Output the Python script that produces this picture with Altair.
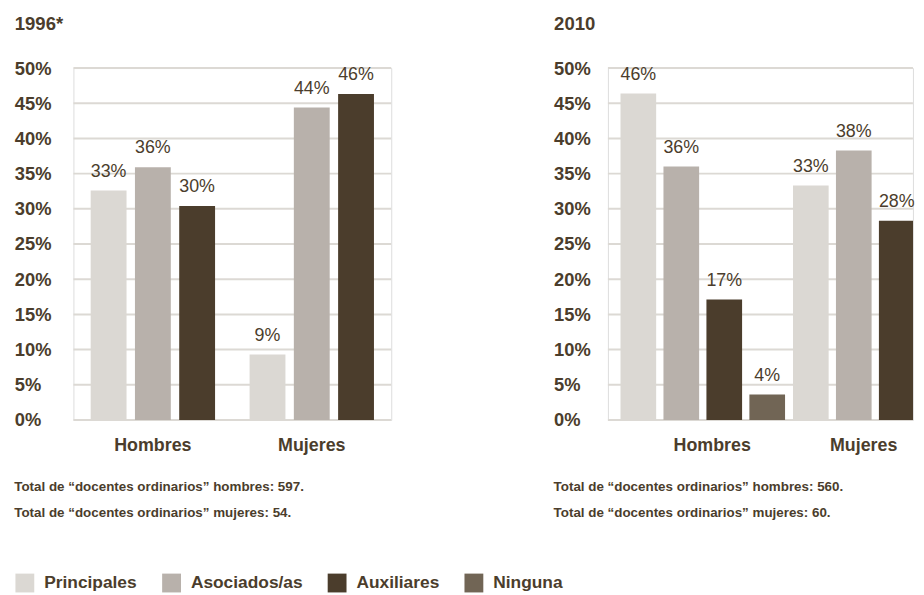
import altair as alt
import pandas as pd

# ---------------- data ----------------
sexes = ["Hombres", "Mujeres"]
categories = ["Principales", "Asociados/as", "Auxiliares", "Ninguna"]
colors = ["#dbd8d3", "#b8b1ab", "#4b3d2c", "#716555"]

cats_1996 = ["Principales", "Asociados/as", "Auxiliares"]
hombres_1996 = [32.6, 35.9, 30.4]
mujeres_1996 = [9.3, 44.4, 46.3]

cats_2010 = ["Principales", "Asociados/as", "Auxiliares", "Ninguna"]
hombres_2010 = [46.4, 36.0, 17.1, 3.6]
mujeres_2010 = [33.3, 38.3, 28.3]  # the 4th (Ninguna) bar lies beyond the visible frame

notes_1996 = ["Total de “docentes ordinarios” hombres: 597.",
              "Total de “docentes ordinarios” mujeres: 54."]
notes_2010 = ["Total de “docentes ordinarios” hombres: 560.",
              "Total de “docentes ordinarios” mujeres: 60."]
y_ticks = [0, 5, 10, 15, 20, 25, 30, 35, 40, 45, 50]

TXT = "#4b3d2c"
GRID = "#dcd9d4"
FONT = "Liberation Sans, Arial, sans-serif"
H = 355


def make_df(cats, hombres, mujeres):
    rows = []
    for s, vals in (("Hombres", hombres), ("Mujeres", mujeres)):
        for c, v in zip(cats, vals):
            rows.append({"sexo": s, "cat": c, "valor": v, "etiqueta": f"{round(v)}%"})
    return pd.DataFrame(rows)


grid_df = pd.DataFrame({"valor": y_ticks})
sex_df = pd.DataFrame({"sexo": sexes})


def panel(df, title, notes, cats, width, pad, x_scale, off_scale, label_dx):
    y_enc = alt.Y(
        "valor:Q", scale=alt.Scale(domain=[0, 50]),
        axis=alt.Axis(
            values=y_ticks, labelExpr="datum.value + '%'", labelOverlap=False,
            title=title, titleAngle=0, titleX=-pad, titleY=-38.4,
            titleAlign="left", titleBaseline="alphabetic", titleFont=FONT,
            titleFontSize=18.7, titleFontWeight="bold", titleColor=TXT,
            labelAlign="left", labelPadding=pad, labelBaseline="middle",
            labelFont=FONT, labelFontSize=18.5, labelFontWeight="bold",
            labelColor=TXT, grid=False, domain=False, ticks=False, tickSize=0,
        ),
    )
    x_enc = alt.X("sexo:N", sort=sexes, scale=x_scale, axis=None)

    grid = alt.Chart(grid_df).mark_rule(color=GRID, strokeWidth=2).encode(
        y=y_enc, x=alt.value(0), x2=alt.value(width)
    )
    base = alt.Chart(df).encode(
        x=x_enc,
        xOffset=alt.XOffset("cat:N", sort=cats, scale=off_scale),
        y=y_enc,
    )
    bars = base.mark_bar(clip=True).encode(
        color=alt.Color(
            "cat:N",
            scale=alt.Scale(domain=categories, range=colors),
            legend=alt.Legend(
                title=None, orient="none", legendX=-58.5, legendY=510,
                direction="horizontal", symbolType="square", symbolSize=361,
                symbolStrokeWidth=0, symbolOpacity=1, labelFont=FONT,
                labelFontSize=17.5, labelFontWeight="bold", labelColor=TXT,
                labelOffset=10, columnPadding=25,
            ),
        )
    )
    text = base.mark_text(
        dy=-14, baseline="alphabetic", font=FONT, fontSize=18, color=TXT
    ).encode(text="etiqueta:N")

    layers = [grid, bars, text]
    for s, dx in zip(sexes, label_dx):
        layers.append(
            alt.Chart(sex_df)
            .transform_filter(alt.datum.sexo == s)
            .mark_text(dx=dx, baseline="alphabetic", align="center", font=FONT,
                       fontSize=18, fontWeight="bold", color=TXT)
            .encode(x=x_enc, y=alt.value(H + 31.3), text="sexo:N")
        )
    return alt.layer(*layers).properties(
        width=width, height=H,
        title=alt.TitleParams(
            text=notes, orient="bottom", anchor="start", frame="bounds",
            font=FONT, fontSize=13.5, fontWeight="bold", color=TXT,
            lineHeight=27, offset=25,
        ),
    )


left = panel(
    make_df(cats_1996, hombres_1996, mujeres_1996), "1996*", notes_1996, cats_1996,
    320.6, 59.7,
    alt.Scale(paddingInner=0, paddingOuter=0),
    alt.Scale(domain=cats_1996, paddingInner=0.19, paddingOuter=0.39),
    [0, 0],
)
right = panel(
    make_df(cats_2010, hombres_2010, mujeres_2010), "2010", notes_2010, cats_2010,
    307.7, 54.8,
    alt.Scale(range=[0, 365.4], paddingInner=0.046, paddingOuter=0.073),
    alt.Scale(domain=cats_2010, paddingInner=0.17, paddingOuter=0),
    [9.5, -11.7],
)

chart = (
    alt.hconcat(left, right, spacing=160.2)
    .resolve_scale(x="independent", y="independent", xOffset="independent")
    .properties(padding={"left": 5, "top": 4, "right": 0, "bottom": 0},
                autosize=alt.AutoSizeParams(type="pad"))
    .configure_view(stroke="transparent", strokeWidth=0)
    .configure(background="white")
)

chart.save("out.html", embed_options={"renderer": "svg", "actions": False})
